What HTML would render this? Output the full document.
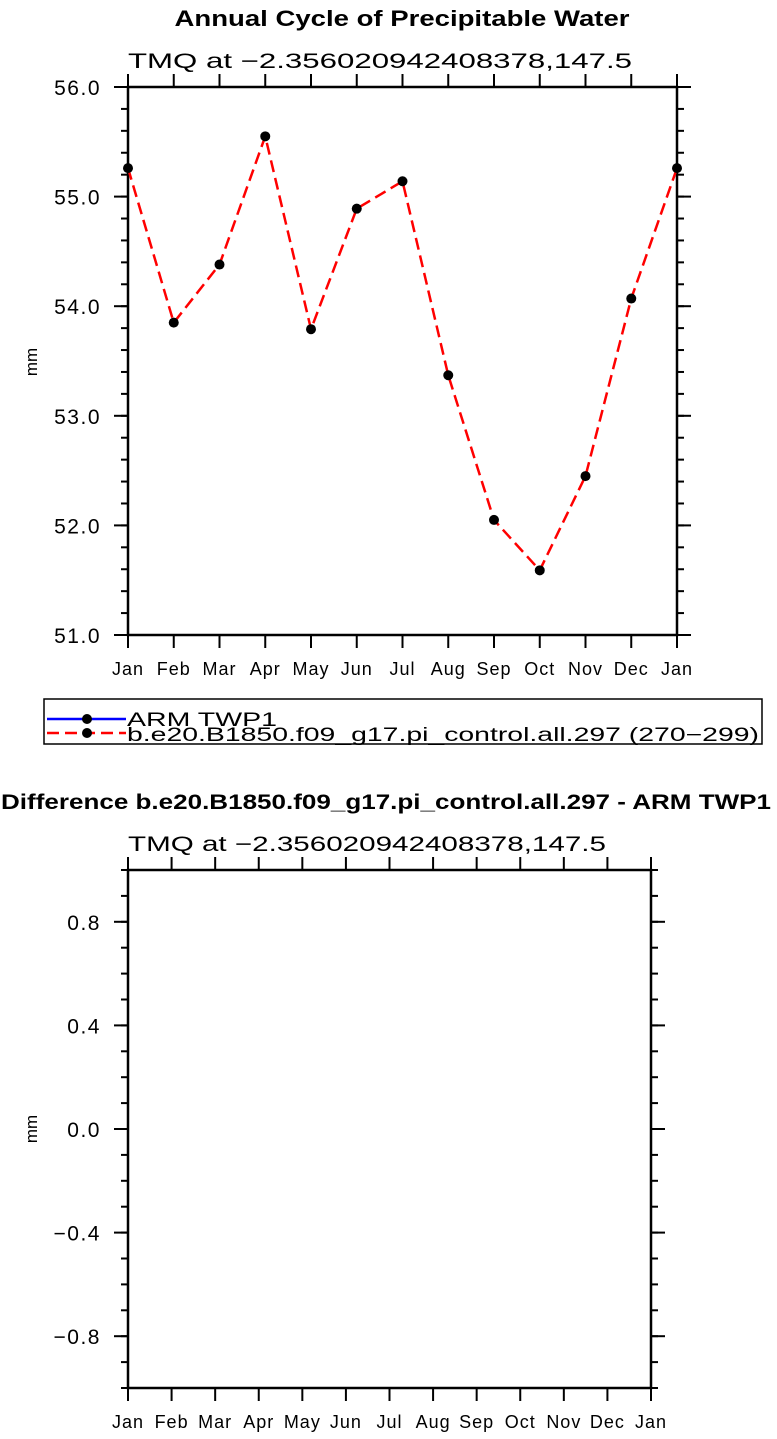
<!DOCTYPE html>
<html><head><meta charset="utf-8"><style>
html,body{margin:0;padding:0;background:#fff}
svg{display:block;font-family:"Liberation Sans",sans-serif}
</style></head><body>
<svg id="c" width="777" height="1439" viewBox="0 0 777 1439">
<text x="402" y="26" font-size="22" font-weight="bold" text-anchor="middle" textLength="455" lengthAdjust="spacingAndGlyphs">Annual Cycle of Precipitable Water</text>
<text x="128" y="68" font-size="21" textLength="504" lengthAdjust="spacingAndGlyphs">TMQ at −2.356020942408378,147.5</text>
<text transform="translate(37,362) rotate(-90)" font-size="17" text-anchor="middle">mm</text>
<g id="topPlot"></g>
<rect x="44" y="699" width="718" height="45" fill="none" stroke="#000" stroke-width="1.5"/>
<g>
<line x1="47" y1="719" x2="126" y2="719" stroke="#00f" stroke-width="2.5"/>
<circle cx="87" cy="719" r="5" fill="#000"/>
<text x="127" y="726" font-size="19" textLength="150" lengthAdjust="spacingAndGlyphs">ARM TWP1</text>
</g>
<g>
<line x1="47" y1="733" x2="126" y2="733" stroke="#f00" stroke-width="2.5" stroke-dasharray="12,6"/>
<circle cx="87" cy="733" r="5" fill="#000"/>
<text x="127" y="741" font-size="19" textLength="632" lengthAdjust="spacingAndGlyphs">b.e20.B1850.f09_g17.pi_control.all.297 (270−299)</text>
</g>
<text x="386" y="809" font-size="21" font-weight="bold" text-anchor="middle" textLength="770" lengthAdjust="spacingAndGlyphs">Difference b.e20.B1850.f09_g17.pi_control.all.297 - ARM TWP1</text>
<text x="128" y="851" font-size="21" textLength="478" lengthAdjust="spacingAndGlyphs">TMQ at −2.356020942408378,147.5</text>
<text transform="translate(37,1129) rotate(-90)" font-size="17" text-anchor="middle">mm</text>
<g id="botPlot"></g>
</svg>
<script>
const months = ["Jan","Feb","Mar","Apr","May","Jun","Jul","Aug","Sep","Oct","Nov","Dec","Jan"];
const modelValues = [55.26, 53.85, 54.38, 55.55, 53.79, 54.89, 55.14, 53.37, 52.05, 51.59, 52.45, 54.07, 55.26];
const topTicks = [51, 52, 53, 54, 55, 56];
const topTickLabels = ["51.0","52.0","53.0","54.0","55.0","56.0"];
const botTicks = [-0.8, -0.4, 0, 0.4, 0.8];
const botTickLabels = ["−0.8","−0.4","0.0","0.4","0.8"];

const NS = "http://www.w3.org/2000/svg";
function mk(parent, tag, attrs, txt){const e=document.createElementNS(NS,tag);for(const k in attrs)e.setAttribute(k,attrs[k]);if(txt!==undefined)e.textContent=txt;parent.appendChild(e);return e;}

function drawAxes(g, L, R, T, B, ymin, ymax, ticks, labels, minorStep){
  const n = months.length-1;
  const xs = i => L + (R-L)*i/n;
  const ys = v => B - (B-T)*(v-ymin)/(ymax-ymin);
  const ax = mk(g,"g",{});
  
  
  mk(ax,"rect",{x:L,y:T,width:R-L,height:B-T,fill:"none",stroke:"#000","stroke-width":2.5});
  months.forEach((m,i)=>{
    const x=xs(i);
    mk(ax,"line",{x1:x,y1:B,x2:x,y2:B+13,stroke:"#000","stroke-width":2});
    mk(ax,"line",{x1:x,y1:T,x2:x,y2:T-13,stroke:"#000","stroke-width":2});
    const t=mk(ax,"text",{x:x,y:B+40,"font-size":18,"text-anchor":"middle","letter-spacing":"1"},m);
    
    
  });
  const nm = Math.round((ymax-ymin)/minorStep);
  for(let k=0;k<=nm;k++){
    const y=ys(ymin+k*minorStep);
    mk(ax,"line",{x1:L,y1:y,x2:L-7,y2:y,stroke:"#000","stroke-width":2});
    mk(ax,"line",{x1:R,y1:y,x2:R+7,y2:y,stroke:"#000","stroke-width":2});
  }
  ticks.forEach((v,i)=>{
    const y=ys(v);
    mk(ax,"line",{x1:L,y1:y,x2:L-14,y2:y,stroke:"#000","stroke-width":2});
    mk(ax,"line",{x1:R,y1:y,x2:R+14,y2:y,stroke:"#000","stroke-width":2});
    const t=mk(ax,"text",{x:L-27,y:y+8,"font-size":21,"text-anchor":"end","letter-spacing":"1.5"},labels[i]);
    
    
  });
  return {xs,ys};
}

const topG = document.getElementById("topPlot");
const s1 = drawAxes(topG,128,677,87,635,51,56,topTicks,topTickLabels,0.2);
const pts = modelValues.map((v,i)=>s1.xs(i)+","+s1.ys(v)).join(" ");
const line = mk(topG,"polyline",{points:pts,fill:"none",stroke:"#f00","stroke-width":2.5,"stroke-dasharray":"12,6"});


modelValues.forEach((v,i)=>{
  const c=mk(topG,"circle",{cx:s1.xs(i),cy:s1.ys(v),r:5,fill:"#000"});
  
  
});

const botG = document.getElementById("botPlot");
drawAxes(botG,128,651,870,1388,-1,1,botTicks,botTickLabels,0.1);
</script>
</body></html>
